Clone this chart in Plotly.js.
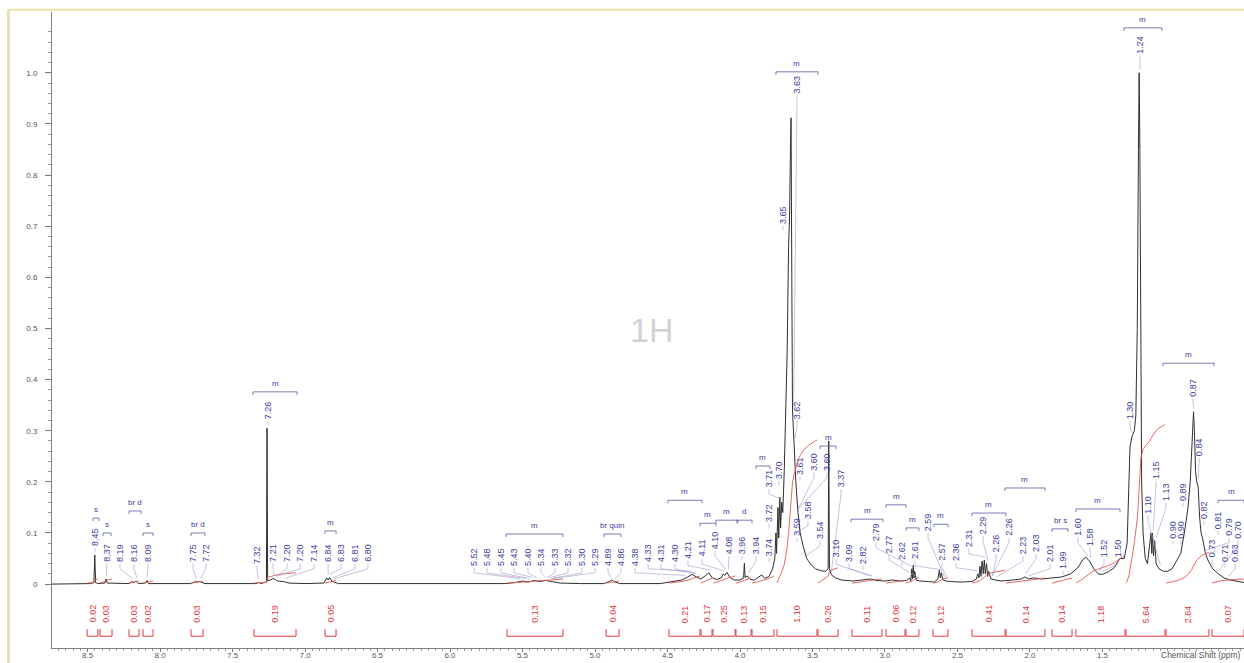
<!DOCTYPE html>
<html><head><meta charset="utf-8">
<script src="https://cdn.plot.ly/plotly-3.0.1.min.js"></script>
<style>html,body{margin:0;padding:0;background:#fff;}#chart{width:1244px;height:663px;}</style>
</head><body><div id="chart"></div>
<script>
// ---- spectrum (chemical shift ppm, relative intensity) ----
const specPpm = [8.745,8.48,8.456,8.45,8.444,8.43,8.38,8.372,8.364,8.21,8.195,8.18,8.165,8.15,8.10,8.09,8.08,
7.79,7.755,7.74,7.725,7.69,7.33,7.32,7.31,7.266,7.262,7.258,7.24,7.22,7.205,7.19,7.15,7.11,7.0,
6.87,6.85,6.84,6.83,6.815,6.80,6.77,5.62,5.55,5.50,5.46,5.42,5.38,5.34,5.30,5.24,5.1,
4.94,4.9,4.885,4.87,4.83,4.55,4.47,4.40,4.36,4.33,4.30,4.27,4.24,4.215,4.19,4.16,4.13,4.115,4.105,4.09,4.07,4.04,4.0,
3.975,3.97,3.965,3.95,3.93,3.90,3.87,3.85,3.83,3.80,3.775,3.76,3.752,3.748,3.738,3.733,3.725,3.72,3.712,3.705,3.695,3.685,
3.675,3.665,3.658,3.652,3.648,3.643,3.638,3.628,3.615,3.60,3.585,3.565,3.54,3.51,3.48,3.44,3.41,3.392,3.388,3.383,3.37,3.34,3.30,
3.22,3.15,3.10,3.06,3.0,2.95,2.90,2.85,2.83,2.822,2.815,2.81,2.805,2.80,2.795,2.785,2.76,2.70,2.66,2.635,2.625,2.618,2.612,2.60,2.58,2.55,2.48,2.40,
2.37,2.36,2.352,2.345,2.338,2.33,2.322,2.315,2.308,2.30,2.292,2.285,2.27,2.24,2.20,2.12,2.06,2.035,2.01,1.98,1.92,1.85,1.78,1.72,1.67,1.635,1.615,1.59,1.56,1.53,1.50,1.46,1.42,1.38,
1.35,1.33,1.318,1.31,1.295,1.28,1.27,1.26,1.252,1.247,1.242,1.236,1.23,1.22,1.205,1.19,1.175,1.165,1.16,1.155,1.148,1.14,1.13,1.11,1.08,1.05,1.02,0.99,0.96,0.93,0.91,0.895,0.885,
0.872,0.866,0.858,0.85,0.84,0.83,0.82,0.81,0.79,0.77,0.74,0.70,0.66,0.62,0.56,0.524];
const specInt = [0,0.001,0.003,0.057,0.003,0.001,0.002,0.010,0.002,0.001,0.005,0.003,0.006,0.001,0.002,0.007,0.001,
0.001,0.005,0.004,0.005,0.001,0.001,0.004,0.001,0.004,0.305,0.006,0.008,0.011,0.009,0.006,0.005,0.002,0.001,
0.002,0.012,0.008,0.013,0.006,0.004,0.001,0.001,0.003,0.006,0.004,0.007,0.005,0.007,0.005,0.002,0.001,
0.001,0.005,0.008,0.005,0.001,0.001,0.004,0.008,0.014,0.019,0.014,0.010,0.016,0.022,0.012,0.009,0.012,0.020,0.017,0.023,0.013,0.008,0.008,
0.012,0.041,0.013,0.016,0.009,0.008,0.013,0.018,0.011,0.015,0.030,0.050,0.100,0.060,0.150,0.090,0.170,0.110,0.160,0.140,0.220,0.320,
0.450,0.660,0.720,0.850,0.912,0.620,0.340,0.280,0.200,0.140,0.100,0.075,0.050,0.038,0.030,0.026,0.025,0.030,0.280,0.030,0.018,0.012,0.008,
0.006,0.008,0.010,0.007,0.006,0.008,0.006,0.007,0.012,0.006,0.030,0.010,0.037,0.012,0.025,0.008,0.006,0.005,0.004,0.010,0.027,0.012,0.022,0.008,0.006,0.005,0.004,0.005,
0.010,0.020,0.012,0.035,0.015,0.045,0.020,0.047,0.020,0.040,0.015,0.025,0.010,0.008,0.006,0.008,0.010,0.014,0.010,0.012,0.010,0.012,0.014,0.020,0.032,0.048,0.053,0.045,0.030,0.020,0.019,0.024,0.032,0.050,
0.050,0.080,0.200,0.270,0.290,0.300,0.330,0.500,0.850,1.000,0.850,0.400,0.200,0.100,0.050,0.040,0.070,0.100,0.060,0.100,0.055,0.085,0.040,0.030,0.025,0.025,0.030,0.045,0.060,0.110,0.150,0.200,0.260,
0.337,0.300,0.220,0.200,0.190,0.130,0.100,0.090,0.060,0.045,0.030,0.020,0.012,0.008,0.004,0.003];

// ---- peak picking labels ----
const peakLabels = ['8.45','8.37','8.19','8.16','8.09','7.75','7.72','7.32','7.26','7.21','7.20','7.20','7.14','6.84','6.83','6.81','6.80',
'5.52','5.48','5.45','5.43','5.40','5.34','5.33','5.32','5.30','5.29','4.89','4.86','4.38','4.33','4.31','4.30','4.21','4.11','4.10','4.08','3.96','3.94',
'3.74','3.72','3.71','3.70','3.65','3.63','3.62','3.61','3.60','3.60','3.37','3.59','3.58','3.54',
'3.10','3.09','2.82','2.79','2.77','2.62','2.61','2.59','2.57','2.36','2.31','2.29','2.26','2.26','2.23','2.03','2.01','1.99','1.60','1.58','1.52','1.50',
'1.30','1.24','1.10','1.15','1.13','0.90','0.90','0.89','0.87','0.84','0.82','0.73','0.81','0.71','0.79','0.63','0.70'];
// label placement (column position in ppm, centre height in intensity units)
const labelPpm = [8.448,8.366,8.276,8.179,8.083,7.772,7.683,7.331,7.255,7.221,7.124,7.034,6.938,6.841,6.752,6.655,6.566,
5.834,5.745,5.648,5.559,5.462,5.372,5.276,5.186,5.090,5.0,4.910,4.821,4.724,4.634,4.545,4.448,4.359,4.262,4.172,4.076,3.986,3.890,
3.80,3.80,3.80,3.731,3.703,3.607,3.607,3.586,3.490,3.400,3.303,3.607,3.531,3.448,
3.338,3.248,3.152,3.062,2.972,2.883,2.793,2.703,2.607,2.510,2.421,2.324,2.234,2.145,2.048,1.959,1.862,1.772,1.669,1.586,1.490,1.393,
1.310,1.241,1.186,1.131,1.062,1.014,0.959,0.945,0.876,0.834,0.800,0.745,0.703,0.655,0.628,0.585,0.567];
const labelLevel = [0.092,0.061,0.061,0.061,0.061,0.061,0.061,0.057,0.34,0.061,0.061,0.061,0.061,0.061,0.061,0.061,0.061,
0.053,0.053,0.053,0.053,0.053,0.053,0.053,0.053,0.053,0.053,0.053,0.053,0.053,0.061,0.061,0.061,0.067,0.070,0.086,0.076,0.076,0.076,
0.072,0.139,0.207,0.223,0.722,0.977,0.34,0.231,0.239,0.239,0.207,0.112,0.145,0.106,
0.070,0.061,0.057,0.102,0.078,0.065,0.067,0.121,0.063,0.063,0.090,0.115,0.080,0.112,0.076,0.080,0.061,0.047,0.112,0.092,0.070,0.070,
0.34,1.055,0.155,0.223,0.18,0.106,0.106,0.18,0.384,0.268,0.145,0.070,0.125,0.061,0.112,0.061,0.106];

// ---- multiplet analysis ----
const multText = ['s','s','br d','s','br d','m','m','m','br quin','m','m','m','d','m','m','m','m','m','m','m','m','m','br s','m','m','m','m'];
const multFrom = [8.462,8.393,8.214,8.117,7.786,7.359,6.862,5.614,4.938,4.497,4.276,4.166,4.021,3.890,3.752,3.448,3.234,2.993,2.855,2.662,2.40,2.172,1.848,1.683,1.352,1.083,0.703];
const multTo   = [8.421,8.338,8.131,8.048,7.690,7.055,6.786,5.221,4.821,4.262,4.166,4.014,3.917,3.793,3.462,3.338,3.014,2.855,2.766,2.566,2.166,1.897,1.738,1.379,1.090,0.731,0.524];
const multLevel= [0.129,0.100,0.143,0.100,0.100,0.376,0.104,0.098,0.098,0.164,0.119,0.125,0.125,0.231,1.002,0.270,0.127,0.155,0.110,0.117,0.139,0.188,0.108,0.147,1.088,0.432,0.164];

// ---- integrals ----
const intFrom = [8.503,8.414,8.214,8.117,7.786,7.352,6.862,5.607,4.924,4.490,4.269,4.186,4.028,3.917,3.745,3.462,3.228,2.993,2.855,2.669,2.400,2.166,1.848,1.683,1.338,1.062,0.745];
const intTo   = [8.428,8.331,8.145,8.048,7.703,7.062,6.786,5.221,4.834,4.276,4.193,4.034,3.924,3.766,3.469,3.324,3.021,2.862,2.766,2.566,2.172,1.897,1.710,1.345,1.069,0.766,0.524];
const intValue= ['0.02','0.03','0.03','0.02','0.03','0.19','0.05','0.13','0.04','0.21','0.17','0.25','0.13','0.15','1.10','0.26','0.11','0.06','0.12','0.12','0.41','0.14','0.14','1.18','5.64','2.64','0.07'];
const intRise = [0.008,0.008,0.004,0.004,0.004,0.02,0.005,0.008,0.004,0.014,0.01,0.014,0.01,0.014,0.28,0.03,0.008,0.005,0.01,0.01,0.025,0.01,0.01,0.055,0.31,0.06,0.008];

// ---- axes ----
const xTickVals = [8.5,8.0,7.5,7.0,6.5,6.0,5.5,5.0,4.5,4.0,3.5,3.0,2.5,2.0,1.5];
const xTickText = ['8.5','8.0','7.5','7.0','6.5','6.0','5.5','5.0','4.5','4.0','3.5','3.0','2.5','2.0','1.5'];
const yTickVals = [0,0.1,0.2,0.3,0.4,0.5,0.6,0.7,0.8,0.9,1.0];
const yTickText = ['0','0.1','0.2','0.3','0.4','0.5','0.6','0.7','0.8','0.9','1.0'];

const F = 'Liberation Sans, Arial, sans-serif';
const BLUE = '#3d3d9e', RED = '#e0383a';

function specAt(p){
  for(let i=0;i<specPpm.length-1;i++){
    const a=specPpm[i], b=specPpm[i+1];
    if(p<=a && p>=b){ const t=(a-p)/(a-b); return specInt[i]+t*(specInt[i+1]-specInt[i]); }
  }
  return 0;
}
function localMax(p,w){
  let m=specAt(p);
  specPpm.forEach((q,i)=>{ if(Math.abs(q-p)<=w && specInt[i]>m) m=specInt[i]; });
  return m;
}

const traces = [];
traces.push({x:specPpm, y:specInt, type:'scatter', mode:'lines', line:{color:'#2f2f2f', width:1}, hoverinfo:'skip'});

// integral curves (running sum of the spectrum inside each integration region)
const ix=[], iy=[];
intFrom.forEach((a,k)=>{
  const b=intTo[k];
  const pts=[[a,specAt(a)]];
  specPpm.forEach((q,i)=>{ if(q<a && q>b) pts.push([q,specInt[i]]); });
  pts.push([b,specAt(b)]);
  const cum=[0];
  for(let i=1;i<pts.length;i++) cum.push(cum[i-1]+(pts[i-1][0]-pts[i][0])*(pts[i-1][1]+pts[i][1])/2);
  const tot=cum[cum.length-1]||1;
  pts.forEach((pt,i)=>{ ix.push(pt[0]); iy.push(0.002+intRise[k]*cum[i]/tot); });
  ix.push(null); iy.push(null);
});
traces.push({x:ix, y:iy, type:'scatter', mode:'lines', line:{color:'#e8584f', width:0.9}, hoverinfo:'skip'});

// integral brackets
const bx=[], by=[];
intFrom.forEach((a,k)=>{
  const b=intTo[k];
  bx.push(a,a,b,b,null); by.push(-0.088,-0.102,-0.102,-0.088,null);
});
traces.push({x:bx, y:by, type:'scatter', mode:'lines', line:{color:RED, width:1}, hoverinfo:'skip'});

// multiplet brackets
const mx=[], my=[];
multFrom.forEach((a,k)=>{
  const b=multTo[k], l=multLevel[k];
  mx.push(a,a,b,b,null); my.push(l-0.006,l,l,l-0.006,null);
});
traces.push({x:mx, y:my, type:'scatter', mode:'lines', line:{color:'#5a5aa8', width:0.8}, hoverinfo:'skip'});

// peak label leader lines
const lx=[], ly=[];
const HALF=0.021;
peakLabels.forEach((t,i)=>{
  const p=parseFloat(t), px=labelPpm[i], bottom=labelLevel[i]-HALF;
  const target=localMax(p,0.012)+0.006;
  if(target < bottom-0.012){
    lx.push(px,px,p,null); ly.push(bottom,bottom-0.01,target,null);
  } else {
    lx.push(px,px,null); ly.push(bottom,bottom-0.008,null);
  }
});
traces.push({x:lx, y:ly, type:'scatter', mode:'lines', line:{color:'#9a9ad0', width:0.6}, hoverinfo:'skip'});

const ann=[];
peakLabels.forEach((t,i)=>ann.push({x:labelPpm[i], y:labelLevel[i], xref:'x', yref:'y', text:t, textangle:-90,
  showarrow:false, xanchor:'center', yanchor:'middle', font:{size:9, color:BLUE, family:F}}));
multText.forEach((t,k)=>ann.push({x:(multFrom[k]+multTo[k])/2, y:multLevel[k]+0.004, xref:'x', yref:'y', text:t,
  showarrow:false, xanchor:'center', yanchor:'bottom', font:{size:8, color:BLUE, family:F}}));
intValue.forEach((t,k)=>ann.push({x:(intFrom[k]+intTo[k])/2, y:-0.058, xref:'x', yref:'y', text:t, textangle:-90,
  showarrow:false, xanchor:'center', yanchor:'middle', font:{size:9, color:RED, family:F}}));
ann.push({x:0.503, y:0.5, xref:'paper', yref:'paper', text:'1H', showarrow:false,
  font:{size:34, color:'#d2d2d2', family:F}, xanchor:'center', yanchor:'middle'});
ann.push({x:0.929, y:-0.011, xref:'paper', yref:'paper', text:'Chemical Shift (ppm)', showarrow:false,
  font:{size:8.5, color:'#555', family:F}, xanchor:'left', yanchor:'middle'});

const yMinor=[];
for(let v=0; v<=1.1001; v+=0.02){ const r=Math.round(v*100)/100; if(Math.round(r*100)%10!==0) yMinor.push(r); }

const layout = {
  width:1244, height:663, margin:{l:52, r:0, t:12, b:15, pad:0},
  paper_bgcolor:'#ffffff', plot_bgcolor:'#ffffff', showlegend:false,
  xaxis:{range:[8.745,0.524], tickmode:'array', tickvals:xTickVals, ticktext:xTickText, ticks:'outside', ticklen:3,
    tickcolor:'#777', showline:true, linecolor:'#808080', linewidth:1, showgrid:false, zeroline:false,
    tickfont:{size:8, color:'#555', family:F}, ticklabelstandoff:-4, fixedrange:true,
    minor:{dtick:0.05, tick0:0, ticks:'outside', ticklen:2, tickcolor:'#999', showgrid:false}},
  yaxis:{range:[-0.125,1.119], tickmode:'array', tickvals:yTickVals, ticktext:yTickText, ticks:'outside', ticklen:6,
    tickcolor:'#777', showline:true, linecolor:'#808080', linewidth:1, showgrid:false, zeroline:false,
    tickfont:{size:8, color:'#555', family:F}, ticklabelstandoff:6, fixedrange:true,
    minor:{tickmode:'array', tickvals:yMinor, ticks:'outside', ticklen:3, tickcolor:'#999', showgrid:false}},
  annotations:ann,
  shapes:[
    {type:'line', xref:'paper', yref:'paper', x0:-0.037, x1:1.0, y0:1.0035, y1:1.0035, line:{color:'#efe2a0', width:2}},
    {type:'line', xref:'paper', yref:'paper', x0:-0.0365, x1:-0.0365, y0:-0.025, y1:1.0035, line:{color:'#e6dfb8', width:3}}
  ]
};
Plotly.newPlot('chart', traces, layout, {staticPlot:true, displayModeBar:false});
</script>
</body></html>
